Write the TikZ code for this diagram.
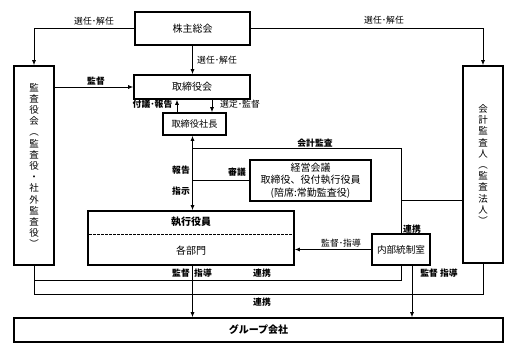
\documentclass[tikz,border=0pt]{standalone}
\usepackage{fontspec}
\newfontfamily\jp{Noto Sans CJK JP}
\usetikzlibrary{arrows.meta}
\begin{document}
\begin{tikzpicture}[x=1pt,y=-1pt,
  box/.style={draw, line width=1.6pt, inner sep=0pt, align=center, font=\jp\fontsize{10}{12.5}\selectfont},
  conn/.style={line width=0.8pt},
  arr/.style={conn,-{Latex[length=5pt,width=4pt]}},
  darr/.style={conn,{Latex[length=5pt,width=4pt]}-{Latex[length=5pt,width=4pt]}},
  lbl/.style={font=\jp\fontsize{8.8}{10}\selectfont, inner sep=1pt},
  blbl/.style={font=\jp\bfseries\fontsize{8.8}{10}\selectfont, inner sep=1pt},
  vtext/.style={box, font=\jp\fontsize{9.5}{11.2}\selectfont},
  ]
\useasboundingbox (0,0) rectangle (517,355);

% boxes
\node[box, minimum width=115pt, minimum height=33pt] (kabu) at (192.5,28.5) {株主総会};
\node[box, minimum width=116pt, minimum height=24pt] (tori) at (192,87) {取締役会};
\node[box, minimum width=63pt, minimum height=22pt, font=\jp\fontsize{9.2}{11}\selectfont] (shacho) at (194.5,124) {取締役社長};
\node[box, minimum width=121pt, minimum height=41pt] (keiei) at (310.5,180.5) {経営会議\\取締役、役付執行役員\\(陪席:常勤監査役)};
\node[box, minimum width=206pt, minimum height=54pt] (shikko) at (191,238) {};
\node[box, minimum width=58pt, minimum height=31pt, font=\jp\fontsize{9.6}{11}\selectfont] (naibu) at (401,249.5) {内部統制室};
\node[vtext, minimum width=40pt, minimum height=199pt] (kansa) at (34,165.5)
  {監\\査\\役\\会\\︵\\監\\査\\役\\・\\社\\外\\監\\査\\役\\︶};
\node[vtext, minimum width=40pt, minimum height=197pt] (kaikei) at (483,164.5)
  {会\\計\\監\\査\\人\\︵\\監\\査\\法\\人\\︶};
\node[box, minimum width=489pt, minimum height=24pt, font=\jp\bfseries\fontsize{10}{12}\selectfont] (group) at (258.5,330) {グループ会社};

% contents of 執行役員 box
\node[font=\jp\bfseries\fontsize{10}{12}\selectfont, inner sep=0pt] (shikkotitle) at (191,222) {執行役員};
\node[font=\jp\fontsize{10}{12}\selectfont, inner sep=0pt] (bumon) at (191,251) {各部門};
\draw[line width=0.6pt, dash pattern=on 2.5pt off 1.5pt] ([xshift=2pt]shikko.west |- 0,234) -- ([xshift=-2pt]shikko.east |- 0,234);

% helper coordinates
\coordinate (j1) at (naibu.north |- 0,200);
\coordinate (j2) at (naibu.north |- 0,148);
\coordinate (j3) at (kabu.south |- j2);
\coordinate (l1) at (naibu.south |- 0,280);
\coordinate (l2) at (kaikei.south |- 0,294);
\coordinate (n1) at ([xshift=11pt]naibu.south);

% connectors
\draw[arr] (kabu.west) -| (kansa.north);
\draw[arr] (kabu.east) -| (kaikei.north);
\draw[arr] (kabu.south) -- (kabu.south |- tori.north);
\draw[arr] (kansa.east |- tori.west) -- (tori.west);
\draw[arr] (177,0 |- shacho.north) -- (177,0 |- tori.south);
\draw[arr] (212,0 |- tori.south) -- (212,0 |- shacho.north);
\draw[darr] (kabu.south |- shacho.south) -- (kabu.south |- shikko.north);
\draw[conn] (kaikei.west |- j1) -- (j1) -- (j2) -- (j3);
\draw[conn] (naibu.north) -- (j1);
\draw[conn] (keiei.west) -- (kabu.south |- keiei.west);
\draw[arr] (naibu.west) -- (naibu.west -| shikko.east);
\draw[arr] (kabu.south |- shikko.south) -- (kabu.south |- group.north);
\draw[arr] (n1) -- (n1 |- group.north);
\draw[conn] (kansa.south) |- (l1) -- (naibu.south);
\draw[conn] (kansa.south) |- (l2) -- (kaikei.south);

% labels
\node[lbl] (t1) at (94,21) {選任･解任};
\node[lbl] (t2) at (384,20) {選任･解任};
\node[lbl, anchor=west] (t3) at (196,60) {選任･解任};
\node[blbl] (t4) at (96,81) {監督};
\node[blbl, anchor=east] (t5) at (173.5,104) {付議･報告};
\node[lbl, anchor=west] (t6) at (219,104) {選定･監督};
\node[blbl] (t7) at (181,170) {報告};
\node[blbl] (t8) at (181,191) {指示};
\node[blbl] (t9) at (237,172) {審議};
\node[blbl] (t10) at (315,143) {会計監査};
\node[blbl] (t11) at (412,229) {連携};
\node[lbl] (t12) at (341,243) {監督･指導};
\node[blbl] (t13) at (181,273) {監督};
\node[blbl] (t14) at (203,273) {指導};
\node[blbl] (t15) at (262,273) {連携};
\node[blbl] (t16) at (262,302) {連携};
\node[blbl] (t17) at (439,273) {監督 指導};
\end{tikzpicture}
\end{document}
